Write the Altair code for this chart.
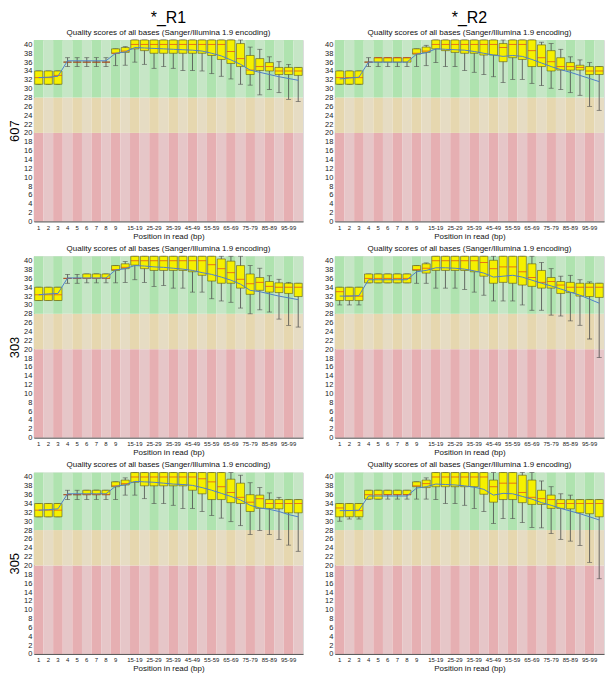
import altair as alt
import pandas as pd

# ---------------- categories / labels ----------------
positions = ["1", "2", "3", "4", "5", "6", "7", "8", "9",
             "10-14", "15-19", "20-24", "25-29", "30-34", "35-39", "40-44",
             "45-49", "50-54", "55-59", "60-64", "65-69", "70-74", "75-79",
             "80-84", "85-89", "90-94", "95-99", "100-101"]
shown_labels = ["1", "2", "3", "4", "5", "6", "7", "8", "9",
                "15-19", "25-29", "35-39", "45-49", "55-59", "65-69",
                "75-79", "85-89", "95-99"]
samples = ["607", "303", "305"]
reads = ["*_R1", "*_R2"]
panel_title = "Quality scores of all bases (Sanger/Illumina 1.9 encoding)"
x_title = "Position in read (bp)"
y_ticks = list(range(0, 41, 2))
zone_lo = [0, 20, 28]
zone_hi = [20, 28, 41]
zone_light = ["#e6c6c8", "#e6dcc3", "#c6e6c6"]
zone_dark = ["#e6afb2", "#e6d7af", "#afe3af"]

# ---------------- 607 R1 ----------------
q3_607_R1 = [34, 34, 34, 36, 36, 36, 36, 36, 39, 39.3, 41, 41, 41, 41, 41, 41, 41, 41, 41, 41, 41, 40.2, 37.5, 36.8, 35.9, 34.8, 34.8, 34.8]
q1_607_R1 = [31, 31, 31, 36, 36, 36, 36, 36, 38, 38.2, 39, 38.6, 38, 38, 38, 38, 38, 38, 37.5, 36.6, 35.7, 35.0, 33.2, 34.1, 34.0, 33.2, 33.2, 33.0]
med_607_R1 = [32.5, 32.5, 33, 36, 36, 36, 36, 36, 38, 38.5, 40, 40, 40, 40, 40, 40, 40, 40, 40, 40, 38.4, 36.8, 34.2, 35, 35, 34, 34, 34]
p10_607_R1 = [31, 31, 31, 35, 35, 35, 35, 35, 35.2, 35.3, 36, 35.5, 34.6, 35, 34.6, 34.1, 34.1, 34, 33.4, 32.8, 32.2, 31, 30.8, 28.6, 29.8, 29.1, 27.6, 27.1]
p90_607_R1 = [34, 34, 34, 37, 37, 37, 37, 37, 39, 39.5, 41, 41, 41, 41, 41, 41, 41, 41, 41, 41, 41, 41, 39.4, 38.9, 37.2, 36.1, 35.5, 34.8]
mean_607_R1 = [32.5, 32.6, 32.8, 36.3, 36.3, 36.3, 36.3, 36.3, 38.0, 38.3, 39.3, 39.2, 39.1, 39.0, 38.9, 38.8, 38.7, 38.5, 38.0, 37.4, 36.5, 35.5, 34.2, 33.7, 33.2, 32.7, 32.3, 31.9]

# ---------------- 607 R2 ----------------
q3_607_R2 = [34, 34, 34, 36, 37, 37, 37, 37, 39, 39.4, 41, 41, 41, 41, 41, 41, 41, 40.2, 41, 41, 41, 39.9, 38.6, 37, 35.9, 35.3, 35, 35]
q1_607_R2 = [31, 31, 31, 36, 36, 36, 36, 36, 37.8, 38.2, 39, 38.6, 38.2, 38, 38, 37.6, 37.6, 36.1, 37, 36.6, 35, 35, 34, 34.2, 34.2, 34.2, 33.2, 33.2]
med_607_R2 = [32.5, 32.5, 32.5, 36, 37, 37, 37, 37, 38, 38.5, 40, 40, 40, 40, 40, 40, 40, 39.3, 40, 40, 38.6, 37, 36.1, 35, 35, 34.8, 34, 34]
p10_607_R2 = [31, 31, 31, 35, 35, 35, 35, 35, 35, 35.2, 35.9, 35, 35, 34.1, 33.7, 33.2, 32.7, 31.4, 32.1, 32.1, 31.2, 30.7, 30.1, 29.8, 29.1, 28.5, 26, 25.1]
p90_607_R2 = [34, 34, 34, 37, 37, 37, 37, 37, 39, 39.8, 41, 41, 41, 41, 41, 41, 41, 41, 41, 41, 41, 40.5, 40.2, 38.9, 37.2, 36.5, 35.9, 35]
mean_607_R2 = [32.2, 32.4, 32.6, 36.0, 36.0, 36.0, 36.0, 36.0, 37.8, 38.1, 39.0, 38.9, 38.8, 38.7, 38.4, 38.0, 37.6, 37.3, 37.5, 37.3, 36.6, 35.8, 35.0, 34.3, 33.7, 33.0, 32.3, 31.6]

# ---------------- 303 R1 ----------------
q3_303_R1 = [34, 34, 34, 36, 36, 37, 37, 37, 38.9, 39.3, 41, 41, 41, 41, 41, 41, 41, 41, 41, 40.4, 39.9, 38.9, 37, 36.2, 35.3, 35, 34.9, 34.9]
q1_303_R1 = [31, 31, 31, 36, 36, 36, 36, 36, 37.8, 38.2, 39, 38.2, 37.8, 37.8, 37.8, 37.8, 37.5, 36.7, 35.4, 34.9, 34.9, 33.8, 32.4, 33.3, 32.9, 32.8, 32.6, 31.9]
med_303_R1 = [32.3, 32.3, 32.3, 36, 36, 36, 36, 36, 38, 38.5, 40, 40, 40, 40, 40, 40, 40, 40, 39.1, 38.2, 37.3, 35.8, 34.8, 35.1, 34.2, 34, 34, 34]
p10_303_R1 = [31, 31, 31, 34.9, 34.9, 35, 35, 35, 35, 35.1, 35.7, 35.1, 34.2, 34.4, 33.8, 33.8, 32.9, 32.9, 31.4, 30.9, 30.6, 29.3, 28, 28.9, 28.4, 26.8, 25.4, 25]
p90_303_R1 = [34, 34, 34, 36.9, 36.9, 37, 37, 37, 38.9, 39.8, 41, 41, 41, 41, 41, 41, 41, 41, 41, 41, 41, 41, 38.9, 38.3, 36.6, 35.8, 35.1, 34.9]
mean_303_R1 = [32.3, 32.5, 32.6, 36.1, 36.1, 36.1, 36.1, 36.1, 37.9, 38.2, 38.9, 38.8, 38.6, 38.5, 38.3, 38.1, 37.8, 37.3, 36.9, 36.3, 35.6, 34.7, 33.3, 33.0, 32.5, 32.0, 31.6, 31.2]

# ---------------- 303 R2 ----------------
q3_303_R2 = [34, 34, 34, 37, 37, 37, 37, 37, 38.9, 39.3, 41, 41, 41, 41, 41, 41, 40.1, 41, 41, 41, 39.3, 37.8, 36.2, 35.3, 35.1, 34.9, 34.9, 34.9]
q1_303_R2 = [31, 31, 31, 35, 35, 35, 35, 35, 37.8, 37.2, 37.8, 37.8, 37.8, 37.8, 37.5, 36.5, 34.9, 35.1, 34.9, 34.5, 34.2, 33.8, 33.8, 32.6, 32.8, 32, 31.9, 31.7]
med_303_R2 = [33, 32, 32, 36, 36, 36, 36, 36, 38, 38.3, 40, 40, 40, 40, 40, 39.6, 38.2, 38.6, 38.6, 37.5, 36.2, 35.1, 35.3, 34.5, 34, 34, 34, 34]
p10_303_R2 = [30, 30, 30, 35, 35, 35, 35, 35, 34.9, 34.9, 33.8, 33.8, 33.8, 33.5, 32.9, 32.2, 30.9, 30.9, 30.9, 30, 28.8, 28.8, 27.7, 27.5, 26.4, 25.4, 22.3, 18.1]
p90_303_R2 = [34, 34, 34, 37, 37, 37, 37, 37, 38.9, 39.5, 41, 41, 41, 41, 41, 41, 41, 41, 41, 41, 41, 39.6, 38.2, 36.5, 36.7, 35.7, 35.2, 34.9]
mean_303_R2 = [32.0, 32.0, 32.1, 35.7, 35.7, 35.7, 35.7, 35.7, 37.5, 37.8, 38.4, 38.4, 38.3, 38.1, 37.7, 37.2, 36.3, 36.5, 36.7, 36.3, 35.6, 34.9, 34.3, 33.6, 32.9, 32.2, 31.3, 30.4]

# ---------------- 305 R1 ----------------
q3_305_R1 = [34, 34, 34, 36, 36, 37, 37, 37, 38.9, 39.3, 41, 41, 41, 41, 41, 41, 41, 41, 41, 41, 39.5, 38.6, 36, 35.9, 34.9, 34.9, 34.9, 34.9]
q1_305_R1 = [31, 31, 31, 36, 36, 36, 36, 36, 37.8, 38.2, 38.8, 38, 38, 38, 38, 38, 37, 36.2, 34.9, 34.9, 34.2, 34, 32.2, 32.9, 32.9, 32.8, 31.9, 31.9]
med_305_R1 = [32.5, 32.5, 32.5, 36, 36, 36, 36, 36, 38, 38.5, 40, 40, 40, 40, 40, 40, 40, 39.6, 38.9, 37.8, 36.5, 35.4, 34.3, 35.1, 34, 34, 34, 34]
p10_305_R1 = [31, 31, 31, 34.9, 34.9, 34.9, 34.9, 34.9, 34.9, 35.9, 35.9, 35.1, 34, 34, 33.6, 32.9, 32.9, 32.2, 31.3, 30.7, 29.9, 29, 27, 27.9, 27, 25.9, 24.6, 23.2]
p90_305_R1 = [34, 34, 34, 37, 37, 37, 37, 37, 38.9, 39.8, 41, 41, 41, 41, 41, 41, 41, 41, 41, 41, 41, 40.4, 38.7, 37.6, 36.4, 35.4, 34.9, 34.9]
mean_305_R1 = [32.5, 32.6, 32.8, 36.2, 36.2, 36.2, 36.2, 36.2, 37.9, 38.2, 39.0, 38.9, 38.8, 38.6, 38.4, 38.3, 38.1, 37.6, 37.0, 36.3, 35.6, 34.8, 33.6, 33.0, 32.7, 32.2, 31.5, 31.0]

# ---------------- 305 R2 ----------------
q3_305_R2 = [34, 34, 34, 37, 37, 37, 37, 37, 38.9, 39.3, 41, 41, 41, 41, 41, 41, 39.3, 41, 41, 40.4, 39.3, 37, 35.9, 34.9, 34.9, 34.9, 34.9, 34.9]
q1_305_R2 = [31, 31, 31, 35, 35, 36, 36, 36, 37.8, 37.6, 37.8, 37.8, 37.8, 37.8, 37.8, 36.1, 34.3, 34.9, 34.9, 34.2, 33.8, 33.8, 32.9, 32.9, 32.8, 31.9, 31.7, 31]
med_305_R2 = [33, 32.4, 32.4, 36, 36, 36, 36, 36, 38, 38.5, 40, 40, 40, 40, 40, 40, 37.8, 38.6, 38.6, 36.5, 35.4, 35.1, 34.9, 34, 34, 34, 34, 34]
p10_305_R2 = [30, 30.5, 30.5, 35, 35, 35, 35, 35, 35, 35, 34.9, 34, 34, 33.6, 32.9, 32.2, 29.5, 30.6, 30.6, 29.7, 28.6, 28.5, 27.2, 25.9, 25.5, 24.5, 20.7, 17]
p90_305_R2 = [34, 34, 34, 37, 37, 37, 37, 37, 38.9, 39.8, 41, 41, 41, 41, 41, 41, 41, 41, 41, 41, 41, 39.1, 37.8, 36.2, 35.9, 34.9, 34.9, 34.9]
mean_305_R2 = [32.4, 32.4, 32.5, 35.7, 35.7, 35.7, 35.7, 35.7, 37.5, 37.8, 38.4, 38.3, 38.2, 38.0, 37.7, 37.2, 35.9, 36.3, 36.2, 35.6, 35.0, 34.2, 33.6, 32.9, 32.3, 31.7, 31.0, 30.3]

panel_data = {
    ("607", "*_R1"): (p10_607_R1, q1_607_R1, med_607_R1, q3_607_R1, p90_607_R1, mean_607_R1),
    ("607", "*_R2"): (p10_607_R2, q1_607_R2, med_607_R2, q3_607_R2, p90_607_R2, mean_607_R2),
    ("303", "*_R1"): (p10_303_R1, q1_303_R1, med_303_R1, q3_303_R1, p90_303_R1, mean_303_R1),
    ("303", "*_R2"): (p10_303_R2, q1_303_R2, med_303_R2, q3_303_R2, p90_303_R2, mean_303_R2),
    ("305", "*_R1"): (p10_305_R1, q1_305_R1, med_305_R1, q3_305_R1, p90_305_R1, mean_305_R1),
    ("305", "*_R2"): (p10_305_R2, q1_305_R2, med_305_R2, q3_305_R2, p90_305_R2, mean_305_R2),
}

# background stripes table
bg_rows = []
for i, p in enumerate(positions):
    for z in range(3):
        bg_rows.append({"pos": p, "lo": zone_lo[z], "hi": zone_hi[z],
                        "fill": zone_dark[z] if i % 2 == 0 else zone_light[z]})
bg_df = pd.DataFrame(bg_rows)

W, H = 270, 182
FONT = "Liberation Sans"


def make_panel(sample, read, top, left):
    p10, q1, med, q3, p90, mean = panel_data[(sample, read)]
    df = pd.DataFrame({"pos": positions, "idx": list(range(len(positions))),
                       "p10": p10, "q1": q1, "med": med, "q3": q3,
                       "p90": p90, "mean": mean})
    xaxis = alt.Axis(values=shown_labels, labelAngle=0, labelFontSize=6,
                     labelColor="#222", ticks=False, labelPadding=3,
                     labelOverlap=False, title=x_title, titleFontSize=8,
                     titleFontWeight="normal", titleColor="#111",
                     titlePadding=2, domainColor="#555", labelFont=FONT,
                     titleFont=FONT)
    yaxis_kw = dict(values=y_ticks, labelFontSize=7.5, labelColor="#222",
                    ticks=False, labelPadding=2, grid=False,
                    domainColor="#999", labelFont=FONT, titleFont=FONT)
    if left:
        yaxis = alt.Axis(title=sample, titleFontSize=13, titleFontWeight="normal",
                         titleColor="#000", titlePadding=2, **yaxis_kw)
    else:
        yaxis = alt.Axis(title=None, **yaxis_kw)
    xs = alt.Scale(domain=positions, paddingInner=0, paddingOuter=0)
    ys = alt.Scale(domain=[0, 41], nice=False)

    def X():
        return alt.X("pos:N", sort=positions, scale=xs, axis=xaxis)

    def Y(field):
        return alt.Y(f"{field}:Q", scale=ys, axis=yaxis)

    bg = alt.Chart(bg_df).mark_rect().encode(
        x=X(), y=Y("lo"), y2="hi", color=alt.Color("fill:N", scale=None))
    base = alt.Chart(df)
    whisk = base.mark_rule(color="#4a4a4a", strokeWidth=0.8).encode(
        x=X(), y=Y("p10"), y2="p90")
    cap_lo = base.mark_tick(color="#4a4a4a", size=5, thickness=0.8).encode(
        x=X(), y=Y("p10"))
    cap_hi = base.mark_tick(color="#4a4a4a", size=5, thickness=0.8).encode(
        x=X(), y=Y("p90"))
    box = base.mark_bar(color="#f5f000", stroke="#5a5a20", strokeWidth=0.6,
                        width=alt.RelativeBandSize(0.84)).encode(
        x=X(), y=Y("q1"), y2="q3")
    median = base.mark_tick(color="#e04020", size=8, thickness=1).encode(
        x=X(), y=Y("med"))
    meanl = base.mark_line(color="#4f7fc8", strokeWidth=1).encode(
        x=X(), y=Y("mean"), order=alt.Order("idx:Q"))

    if top:
        title = alt.TitleParams(text=read, subtitle=panel_title, fontSize=16,
                                fontWeight="normal", color="#000", font=FONT,
                                subtitleFontSize=8, subtitleColor="#111",
                                subtitleFont=FONT, subtitlePadding=3,
                                anchor="middle", frame="group", offset=3)
    else:
        title = alt.TitleParams(text=panel_title, fontSize=8, fontWeight="normal",
                                color="#111", font=FONT, anchor="middle",
                                frame="group", offset=3)
    return alt.layer(bg, whisk, cap_lo, cap_hi, box, median, meanl).properties(
        width=W, height=H, title=title)


rows = []
for r, s in enumerate(samples):
    rows.append(alt.hconcat(*[make_panel(s, rd, r == 0, c == 0)
                              for c, rd in enumerate(reads)], spacing=20))

chart = alt.vconcat(*rows, spacing=3).properties(padding=0).configure_view(
    stroke=None).configure(font=FONT)

chart.save("out.html", embed_options={"renderer": "svg", "actions": False})
